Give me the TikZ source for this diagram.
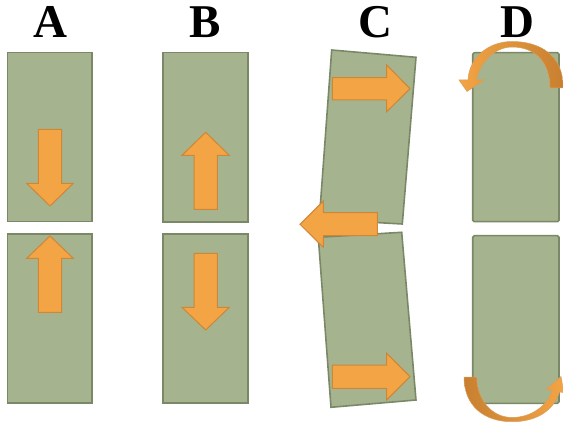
\documentclass[tikz,border=0pt]{standalone}
\usepackage{fontspec}
\setmainfont{Liberation Serif}
\begin{document}
\begin{tikzpicture}[x=1pt,y=-1pt,
  greenbox/.style={fill=boxgreen,draw=boxedge,line width=1.6pt},
  orangearrow/.style={fill=arroworange,draw=arrowedge,line width=1pt,line join=miter},
  curlarrow/.style={draw=arrowedge!80,line width=0.5pt},
  lettr/.style={anchor=base,font=\fontsize{47}{47}\selectfont\bfseries,inner sep=0pt}]
\definecolor{boxgreen}{RGB}{165,180,143}
\definecolor{boxedge}{RGB}{122,136,104}
\definecolor{arroworange}{RGB}{243,164,68}
\definecolor{arrowedge}{RGB}{205,135,55}
\definecolor{darkorange}{RGB}{200,128,48}
\useasboundingbox (0,0) rectangle (563,425);
% labels
\node[lettr] (la) at (50,38) {A};
\node[lettr] (lb) at (205.5,38) {B};
\node[lettr] (lc) at (375,38) {C};
\node[lettr] (ld) at (517,38) {D};
% column A
\draw[greenbox] (7.3,52.7) rectangle (92,221.7);
\draw[greenbox] (7.3,234) rectangle (92,402.7);
\draw[orangearrow] (38.3,129.3) -- (61.7,129.3) -- (61.7,183.3) -- (73.3,183.3) -- (50,206) -- (26.7,183.3) -- (38.3,183.3) -- cycle;
\draw[orangearrow] (38.3,312.3) -- (61.7,312.3) -- (61.7,258.3) -- (73.3,258.3) -- (50,236) -- (26.7,258.3) -- (38.3,258.3) -- cycle;
% column B
\draw[greenbox] (162.7,52.7) rectangle (247.7,222.3);
\draw[greenbox] (162.7,234.3) rectangle (247.7,402.7);
\draw[orangearrow] (194,209.3) -- (217.3,209.3) -- (217.3,155.3) -- (229.3,155.3) -- (205.7,132.3) -- (182,155.3) -- (194,155.3) -- cycle;
\draw[orangearrow] (194,253.3) -- (217.3,253.3) -- (217.3,307.3) -- (229.3,307.3) -- (205.7,330) -- (182,307.3) -- (194,307.3) -- cycle;
% column C
\draw[greenbox] (331.7,50) -- (416,57.3) -- (402.3,224) -- (319.3,219.3) -- cycle;
\draw[greenbox] (318.3,237.3) -- (401.7,232.3) -- (416,400) -- (331,407.3) -- cycle;
\draw[orangearrow] (332.3,77.7) -- (386.7,77.7) -- (386.7,65) -- (410,88.7) -- (386.7,111.7) -- (386.7,100) -- (332.3,100) -- cycle;
\draw[orangearrow] (332.3,365) -- (386.7,365) -- (386.7,353.3) -- (410,376.7) -- (386.7,400) -- (386.7,388.3) -- (332.3,388.3) -- cycle;
\draw[orangearrow] (377.3,212.7) -- (323.3,212.7) -- (323.3,201) -- (300,224.3) -- (323.3,247.3) -- (323.3,235.7) -- (377.3,235.7) -- cycle;
% column D
\draw[greenbox,rounded corners=1.5pt] (472.7,52.7) rectangle (559,221.7);
\draw[greenbox,rounded corners=1.5pt] (472.7,235.7) rectangle (559,403.3);
% top curled arrow
\shade[left color=arroworange,right color=darkorange,curlarrow]
  (550,88) -- (563.3,88) .. controls (563.3,55) and (540,41.5) .. (512,41.5)
  .. controls (488,41.5) and (469,58) .. (468,80) -- (459,80) -- (467,91.5)
  -- (484,80) -- (476.5,80) .. controls (480,62) and (495,47) .. (512,47)
  .. controls (535,47) and (550,62) .. (550,88) -- cycle;
% bottom curled arrow
\shade[left color=darkorange,right color=arroworange,curlarrow]
  (464,377) -- (476.7,377) .. controls (477,400) and (492,417.5) .. (512,417.5)
  .. controls (532,417.5) and (548,405) .. (552,390) -- (546,389.5) -- (561,376.5)
  -- (564,392.5) -- (559.5,392) .. controls (553,412) and (535,421.7) .. (512,421.7)
  .. controls (483,421.7) and (464,405) .. (464,377) -- cycle;
\end{tikzpicture}
\end{document}
